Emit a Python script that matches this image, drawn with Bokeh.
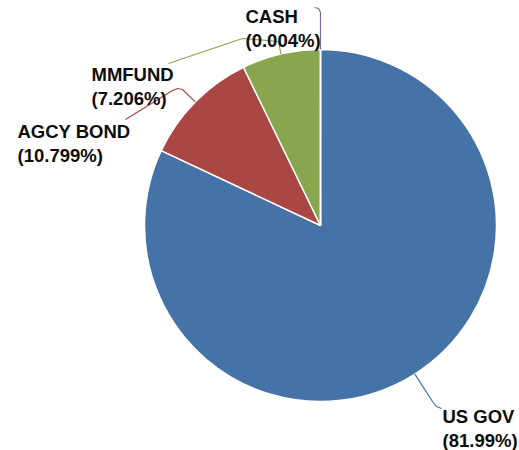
import math
from bokeh.plotting import figure
from bokeh.models import Range1d, ColumnDataSource
from bokeh.core.properties import value
from bokeh.embed import file_html
from bokeh.resources import INLINE

# ---- data ----
categories = ["US GOV", "AGCY BOND", "MMFUND", "CASH"]
percents = [81.99, 10.799, 7.206, 0.004]
colors = ["#4572A7", "#AA4643", "#89A54E", "#80699B"]

# ---- layout (page pixel coords, y downwards) ----
CX, CY, R = 320, 225, 176
W, H = 519, 450

p = figure(width=W, height=H, output_backend="svg", toolbar_location=None,
           x_range=Range1d(0, W), y_range=Range1d(-H, 0),
           min_border=0)
p.axis.visible = False
p.xgrid.visible = False
p.ygrid.visible = False
p.outline_line_color = None
p.background_fill_color = "white"
p.border_fill_color = "white"

total = sum(percents)
starts, ends, mids = [], [], []
cum = 0.0
for v in percents:
    a0 = math.pi / 2 - 2 * math.pi * cum / total
    cum += v
    a1 = math.pi / 2 - 2 * math.pi * cum / total
    starts.append(a0)
    ends.append(a1)
    mids.append((a0 + a1) / 2)

src = ColumnDataSource(dict(x=[CX] * 4, y=[-CY] * 4, start=starts, end=ends,
                            color=colors, cat=categories))
p.wedge(x="x", y="y", radius=R, start_angle="start", end_angle="end",
        direction="clock", fill_color="color", line_color="white",
        line_width=1.5, source=src)

# leader lines: first point on slice edge (from data), rest layout elbows
elbows = {
    "US GOV": [(432, 401), (436, 406), (441, 408)],
    "AGCY BOND": [(182, 89), (177, 88), (172, 90), (125, 119)],
    "MMFUND": [(278, 41), (242, 38), (168, 63)],
    "CASH": [(320, 12), (318, 8), (314, 7)],
}
for cat, m, col in zip(categories, mids, colors):
    sx = CX + R * math.cos(m)
    sy = CY - R * math.sin(m)
    pts = [(sx, sy)] + elbows[cat]
    p.line([q[0] for q in pts], [-q[1] for q in pts], line_color=col,
           line_width=1.2)

# label anchors (left x, cap-top y of first line)
anchors = {
    "US GOV": (442, 407),
    "AGCY BOND": (17, 122),
    "MMFUND": (91, 65),
    "CASH": (245, 7),
}
tx, ty, tt = [], [], []
for cat, v in zip(categories, percents):
    ax, ay = anchors[cat]
    tx += [ax, ax]
    ty += [-(ay + 9), -(ay + 32.5)]
    tt += [cat, "(%s%%)" % v]

p.text(x=tx, y=ty, text=tt, text_font=value("Liberation Sans"),
       text_font_style="bold", text_font_size="18.5px",
       text_baseline="alphabetic", text_align="left", text_color="#0d0d0d")

open("out.html", "w").write(file_html(p, INLINE))
